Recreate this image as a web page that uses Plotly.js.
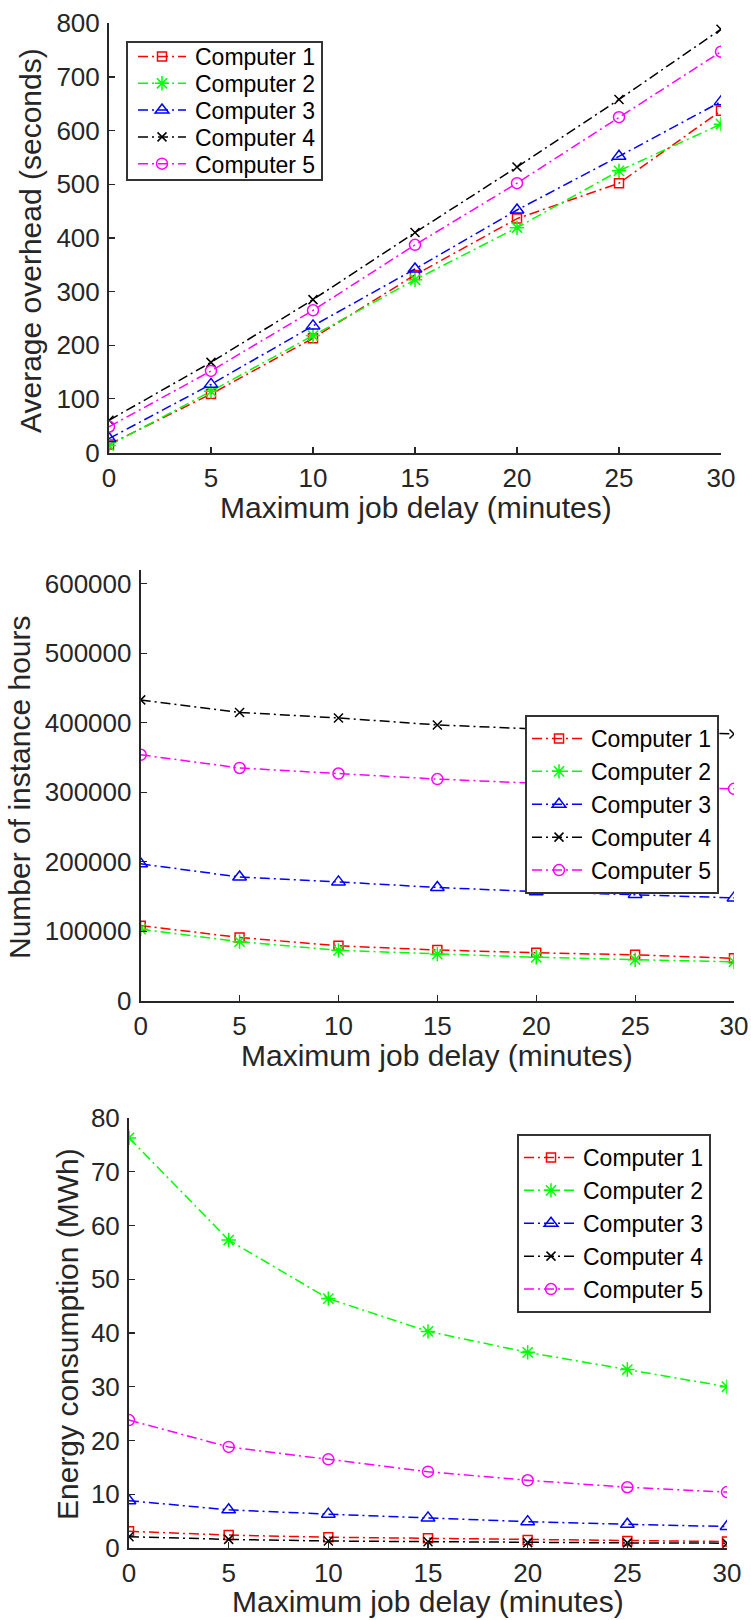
<!DOCTYPE html>
<html>
<head>
<meta charset="utf-8">
<script src="https://cdn.plot.ly/plotly-3.0.1.min.js"></script>
<style>html,body{margin:0;padding:0;background:#fff;}#chart{width:751px;height:1620px;}</style>
</head>
<body>
<div id="chart"></div>
<script>
// Shared x values: maximum job delay (minutes)
const delays = [0, 5, 10, 15, 20, 25, 30];
const seriesNames = ["Computer 1", "Computer 2", "Computer 3", "Computer 4", "Computer 5"];

// Panel 1: Average overhead (seconds)
const overheadC1 = [15, 109, 213, 331, 436, 502, 637];
const overheadC2 = [13, 114, 218, 322, 419, 525, 612];
const overheadC3 = [26, 127, 236, 342, 452, 552, 654];
const overheadC4 = [60, 168, 285, 410, 532, 658, 789];
const overheadC5 = [48, 152, 265, 387, 502, 625, 747];

// Panel 2: Number of instance hours
const hoursC1 = [108000, 91000, 79000, 73000, 69000, 66000, 61000];
const hoursC2 = [103000, 85000, 72500, 67000, 62500, 59000, 56000];
const hoursC3 = [197000, 178000, 171000, 163000, 157000, 153000, 148000];
const hoursC4 = [433000, 415000, 407000, 397000, 391000, 387000, 384000];
const hoursC5 = [354000, 335000, 327000, 319000, 313000, 309000, 305000];

// Panel 3: Energy consumption (MWh)
const energyC1 = [3.1, 2.4, 2.0, 1.8, 1.5, 1.3, 1.2];
const energyC2 = [76.3, 57.3, 46.4, 40.3, 36.4, 33.2, 30.0];
const energyC3 = [8.8, 7.1, 6.3, 5.6, 4.9, 4.4, 4.0];
const energyC4 = [2.1, 1.6, 1.3, 1.15, 1.0, 0.95, 0.9];
const energyC5 = [23.8, 18.8, 16.5, 14.2, 12.6, 11.3, 10.4];

const xTicks = [0, 5, 10, 15, 20, 25, 30];
const yTicks1 = [0, 100, 200, 300, 400, 500, 600, 700, 800];
const yTicks2 = [0, 100000, 200000, 300000, 400000, 500000, 600000];
const yTicks3 = [0, 10, 20, 30, 40, 50, 60, 70, 80];

const colors = ["#ff0000", "#00ff00", "#0000ff", "#000000", "#ff00ff"];
const symbols = ["square-open", "asterisk-open", "triangle-up-open", "x-thin-open", "circle-open"];
const sizes = [9, 12, 12, 9, 11];
const dash = "10px,4px,2px,4px";

const panels = [
  {series: [overheadC1, overheadC2, overheadC3, overheadC4, overheadC5], xa: "x", ya: "y", lg: "legend"},
  {series: [hoursC1, hoursC2, hoursC3, hoursC4, hoursC5], xa: "x2", ya: "y2", lg: "legend2"},
  {series: [energyC1, energyC2, energyC3, energyC4, energyC5], xa: "x3", ya: "y3", lg: "legend3"}
];

const traces = [];
panels.forEach(p => {
  p.series.forEach((vals, i) => {
    traces.push({
      type: "scatter", mode: "lines+markers",
      x: delays, y: vals, name: seriesNames[i],
      xaxis: p.xa, yaxis: p.ya, legend: p.lg,
      line: {color: colors[i], width: 1.5, dash: dash},
      marker: {symbol: symbols[i], size: sizes[i], color: colors[i], line: {color: colors[i], width: 1.5}}
    });
  });
});

const W = 751, H = 1620;
const fx = v => v / W;
const fy = v => 1 - v / H;
const axisColor = "#262626";
const FONT = "Liberation Sans, Arial, Helvetica, sans-serif";

function xaxisDef(l, r, anchor) {
  return {
    domain: [fx(l), fx(r)], anchor: anchor, range: [0, 30],
    tickvals: xTicks, ticktext: xTicks.map(String),
    ticks: "inside", ticklen: 6, tickwidth: 1.2, tickcolor: axisColor,
    showline: true, linecolor: axisColor, linewidth: 2,
    showgrid: false, zeroline: false,
    tickfont: {family: FONT, size: 26, color: axisColor},
    ticklabelstandoff: 1
  };
}
function yaxisDef(top, bottom, anchor, range, ticks) {
  return {
    domain: [fy(bottom), fy(top)], anchor: anchor, range: range,
    tickvals: ticks, ticktext: ticks.map(String),
    ticks: "inside", ticklen: 6, tickwidth: 1.2, tickcolor: axisColor,
    showline: true, linecolor: axisColor, linewidth: 2,
    showgrid: false, zeroline: false,
    tickfont: {family: FONT, size: 26, color: axisColor},
    ticklabelstandoff: 2
  };
}
function legendDef(left, top, itemW) {
  return {
    x: fx(left), y: fy(top), xanchor: "left", yanchor: "top",
    xref: "paper", yref: "paper",
    bgcolor: "#ffffff", bordercolor: "#333333", borderwidth: 2,
    font: {family: FONT, size: 23, color: "#000000"},
    itemwidth: itemW, tracegroupgap: 0
  };
}
function ann(text, x, y, angle) {
  return {
    text: text, x: fx(x), y: fy(y), xref: "paper", yref: "paper",
    showarrow: false, textangle: angle, xanchor: "center", yanchor: "middle",
    font: {family: FONT, size: 30, color: axisColor}
  };
}

const layout = {
  width: W, height: H,
  margin: {l: 0, r: 0, t: 0, b: 0},
  paper_bgcolor: "#ffffff", plot_bgcolor: "#ffffff",
  font: {family: FONT, color: axisColor},
  xaxis: xaxisDef(109, 721, "y"),
  yaxis: yaxisDef(23.3, 452.5, "x", [0, 800], yTicks1),
  xaxis2: xaxisDef(140.7, 734, "y2"),
  yaxis2: yaxisDef(570, 1000.7, "x2", [0, 620000], yTicks2),
  xaxis3: xaxisDef(129, 727, "y3"),
  yaxis3: yaxisDef(1118, 1548, "x3", [0, 80], yTicks3),
  legend: legendDef(126, 40.5, 57),
  legend2: legendDef(525, 715, 54),
  legend3: legendDef(517, 1134, 54),
  annotations: [
    ann("Average overhead (seconds)", 30, 241, -90),
    ann("Maximum job delay (minutes)", 416, 508, 0),
    ann("Number of instance hours", 19, 787, -90),
    ann("Maximum job delay (minutes)", 437, 1055, 0),
    ann("Energy consumption (MWh)", 67, 1334, -90),
    ann("Maximum job delay (minutes)", 428, 1601, 0)
  ],
  showlegend: true
};

// Compact legend rows to match the reference's tighter spacing
function tightenLegends(gd) {
  const rowH = 26.8, firstY = 16, boxH = 140, bw = 2;
  gd.querySelectorAll("g.legend").forEach(lg => {
    const items = lg.querySelectorAll("g.traces");
    items.forEach((it, i) => {
      const tr = it.getAttribute("transform") || "";
      const m = tr.match(/translate\(\s*([-\d.eE]+)[ ,]+([-\d.eE]+)\s*\)/);
      const x = m ? parseFloat(m[1]) : bw;
      it.setAttribute("transform", "translate(" + x + "," + (firstY + i * rowH) + ")");
      it.querySelectorAll("g.legendlines path").forEach(p => p.setAttribute("d", "M10,0h48"));
      it.querySelectorAll("g.legendpoints path.scatterpts").forEach(p => p.setAttribute("transform", "translate(34,0)"));
    });
    const bg = lg.querySelector("rect.bg");
    if (bg) bg.setAttribute("height", boxH - bw);
  });
}

Plotly.newPlot("chart", traces, layout, {displayModeBar: false, staticPlot: true})
  .then(gd => { try { tightenLegends(gd); } catch (e) { console.error(e); } });
</script>
</body>
</html>
